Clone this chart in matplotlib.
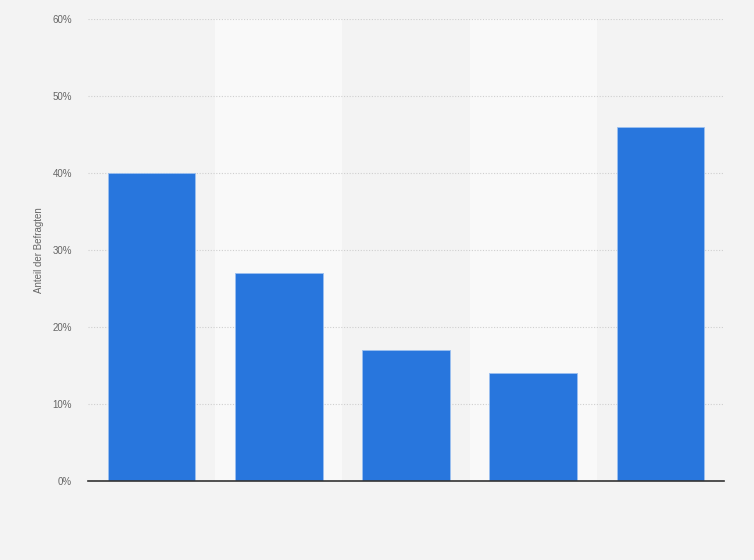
import numpy as np
import matplotlib.pyplot as plt

plt.rcParams['font.family'] = ['Liberation Sans', 'DejaVu Sans']

# values (share of respondents, %)
categories = ['A', 'B', 'C', 'D', 'E']
values = [40, 27, 17, 14, 46]
yticks = [0, 10, 20, 30, 40, 50, 60]

bg = '#f3f3f3'
band = '#f9f9f9'
bar_color = '#2876dd'

fig = plt.figure(figsize=(7.54, 5.6), dpi=100, facecolor=bg)
ax = fig.add_axes([88 / 754, 79 / 560, 636 / 754, 462 / 560])
ax.set_facecolor(bg)

x = np.arange(len(categories))
# alternating column bands
for i in x:
    if i % 2 == 1:
        ax.axvspan(i - 0.5, i + 0.5, color=band, zorder=0, lw=0)

ax.bar(x, values, width=0.69, color=bar_color, edgecolor='#9cc0f0', linewidth=0.6, zorder=3)

ax.set_xlim(-0.5, len(categories) - 0.5)
ax.set_ylim(0, 60)
ax.set_yticks(yticks)
ax.set_yticklabels([f'{t}%' for t in yticks], fontsize=7, color='#666666')
ax.set_xticks([])
ax.tick_params(axis='y', length=0, pad=11.5)
ax.yaxis.grid(True, color='#cfcfcf', linestyle=(0, (1, 1.5)), linewidth=0.8, zorder=1)
ax.set_axisbelow(True)

for s in ['top', 'right', 'left']:
    ax.spines[s].set_visible(False)
ax.spines['bottom'].set_color('#333333')
ax.spines['bottom'].set_linewidth(1.2)
ax.spines['bottom'].set_zorder(4)

ax.set_ylabel('Anteil der Befragten', fontsize=7, color='#666666', labelpad=6)

plt.savefig('out.png', dpi=100, facecolor=bg)
